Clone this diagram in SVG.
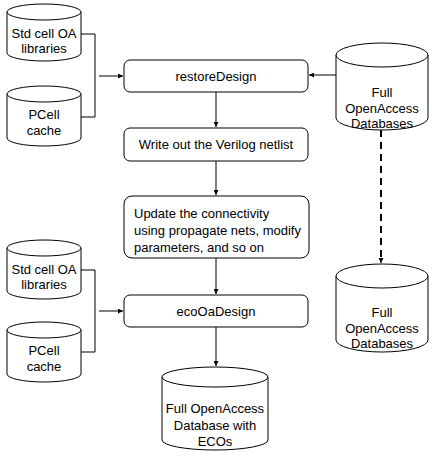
<svg xmlns="http://www.w3.org/2000/svg" width="439" height="456" viewBox="0 0 439 456">
<style>
.shape{fill:#fff;stroke:#000;stroke-width:1}
.ln{fill:none;stroke:#000;stroke-width:1}
.dash{fill:none;stroke:#000;stroke-width:2;stroke-dasharray:7 5}
text{font-family:"Liberation Sans",Arial,sans-serif;font-size:13px;fill:#000}
.c{text-anchor:middle}
</style>
<defs>
<marker id="ah" viewBox="0 0 6 6" refX="6" refY="3" markerWidth="5" markerHeight="5" markerUnits="userSpaceOnUse" orient="auto">
<path d="M0,0 L6,3 L0,6 Z" fill="#000"/>
</marker>
</defs>
<g id="connectors">
<path class="ln" d="M81,34 H95 V117 H81"/>
<path class="ln" d="M99,76 H123" marker-end="url(#ah)"/>
<path class="ln" d="M81,270 H95 V352 H81"/>
<path class="ln" d="M99,311 H123" marker-end="url(#ah)"/>
<path class="ln" d="M336,75 H309" marker-end="url(#ah)"/>
<path class="ln" d="M216,92 V127" marker-end="url(#ah)"/>
<path class="ln" d="M216,161 V195" marker-end="url(#ah)"/>
<path class="ln" d="M216,258 V294" marker-end="url(#ah)"/>
<path class="ln" d="M216,327 V366" marker-end="url(#ah)"/>
<path class="dash" d="M381,130 V258"/>
<path class="ln" d="M381,258 V263" marker-end="url(#ah)"/>
</g>
<g id="stdcell1">
<path class="shape" d="M7,12 V53 A37,8 0 0 0 81,53 V12"/>
<path class="shape" d="M7,12 A37,8 0 0 1 81,12 A37,8 0 0 1 7,12 Z"/>
<text class="c" x="44" y="37.5">Std cell OA</text>
<text class="c" x="44" y="52.5">libraries</text>
</g>
<g id="pcell1">
<path class="shape" d="M7,94 V138 A37,8 0 0 0 81,138 V94"/>
<path class="shape" d="M7,94 A37,8 0 0 1 81,94 A37,8 0 0 1 7,94 Z"/>
<text class="c" x="44" y="118.5">PCell</text>
<text class="c" x="44" y="134.5">cache</text>
</g>
<g id="stdcell2">
<path class="shape" d="M7,248 V291 A37,8 0 0 0 81,291 V248"/>
<path class="shape" d="M7,248 A37,8 0 0 1 81,248 A37,8 0 0 1 7,248 Z"/>
<text class="c" x="44" y="273.5">Std cell OA</text>
<text class="c" x="44" y="288.5">libraries</text>
</g>
<g id="pcell2">
<path class="shape" d="M7,330 V374 A37,8 0 0 0 81,374 V330"/>
<path class="shape" d="M7,330 A37,8 0 0 1 81,330 A37,8 0 0 1 7,330 Z"/>
<text class="c" x="44" y="354.5">PCell</text>
<text class="c" x="44" y="370.5">cache</text>
</g>
<g id="restoreDesign">
<rect class="shape" x="124" y="60" width="184" height="32" rx="6"/>
<text class="c" x="216" y="80.5">restoreDesign</text>
</g>
<g id="writeVerilog">
<rect class="shape" x="124" y="128" width="184" height="33" rx="6"/>
<text class="c" x="216" y="148.5">Write out the Verilog netlist</text>
</g>
<g id="update">
<rect class="shape" x="124" y="196" width="185" height="62" rx="8"/>
<text x="134" y="217.5">Update the connectivity</text>
<text x="134" y="234.5">using propagate nets, modify</text>
<text x="134" y="251.5">parameters, and so on</text>
</g>
<g id="ecoOaDesign">
<rect class="shape" x="124" y="295" width="184" height="32" rx="6"/>
<text class="c" x="216" y="315.5">ecoOaDesign</text>
</g>
<g id="fullDb1">
<path class="shape" d="M336,55 V118 A46,12 0 0 0 428,118 V55"/>
<path class="shape" d="M336,55 A46,12 0 0 1 428,55 A46,12 0 0 1 336,55 Z"/>
<text class="c" x="382" y="96.5">Full</text>
<text class="c" x="382" y="112.5">OpenAccess</text>
<text class="c" x="382" y="127.5">Databases</text>
</g>
<g id="fullDb2">
<path class="shape" d="M336,276 V340 A46,12 0 0 0 428,340 V276"/>
<path class="shape" d="M336,276 A46,12 0 0 1 428,276 A46,12 0 0 1 336,276 Z"/>
<text class="c" x="382" y="316.5">Full</text>
<text class="c" x="382" y="332.5">OpenAccess</text>
<text class="c" x="382" y="347.5">Databases</text>
</g>
<g id="fullDbEco">
<path class="shape" d="M162,377 V440 A53,10 0 0 0 268,440 V377"/>
<path class="shape" d="M162,377 A53,10 0 0 1 268,377 A53,10 0 0 1 162,377 Z"/>
<text class="c" x="215" y="412.5">Full OpenAccess</text>
<text class="c" x="215" y="429.5">Database with</text>
<text class="c" x="215" y="445.5">ECOs</text>
</g>
</svg>
